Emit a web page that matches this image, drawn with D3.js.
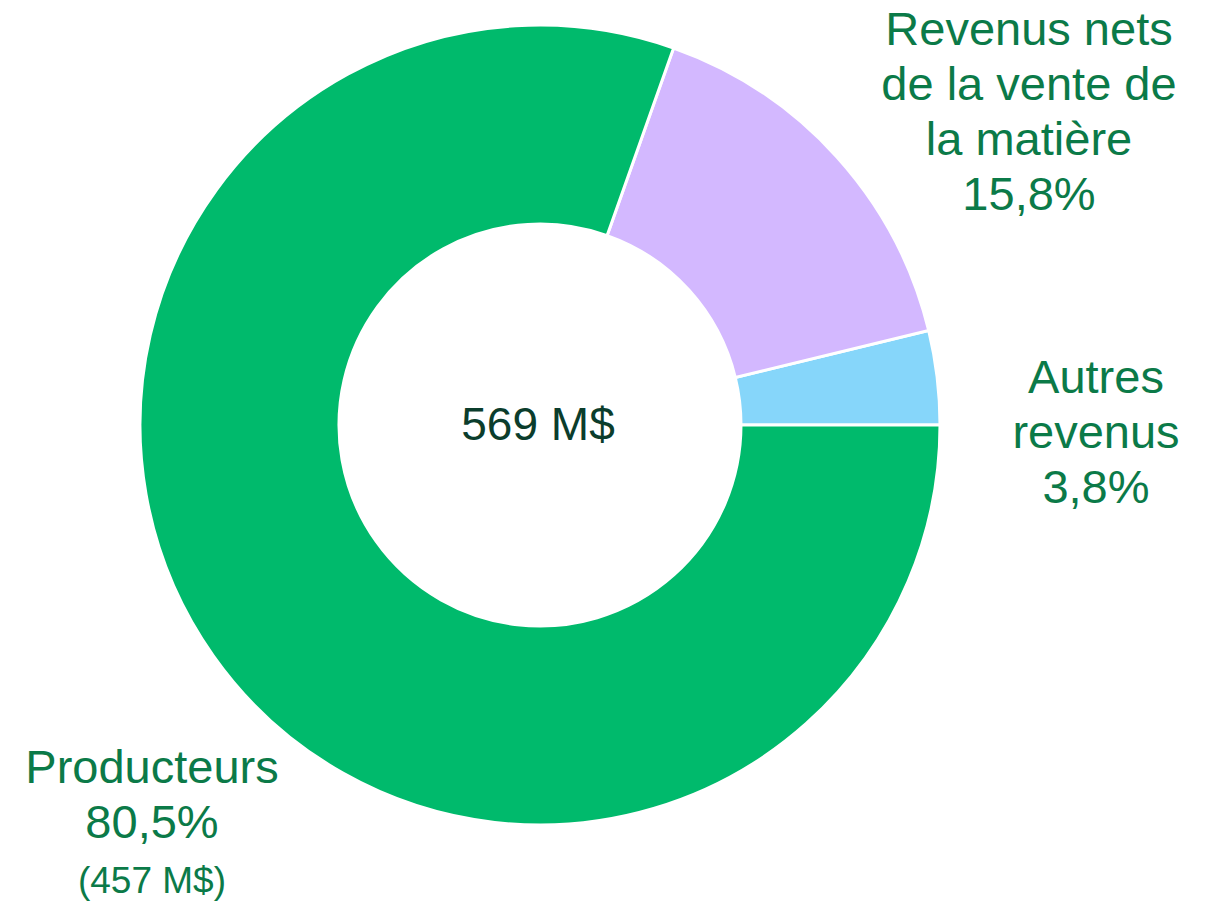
<!DOCTYPE html>
<html>
<head>
<meta charset="utf-8">
<script src="https://cdn.jsdelivr.net/npm/d3@7"></script>
<style>
  body { margin: 0; background: #fff; }
  svg text { font-family: "Liberation Sans", Arial, sans-serif; }
</style>
</head>
<body>
<div id="chart"></div>
<script>
// Chart data
const categories = ['Autres revenus', 'Revenus nets de la vente de la matière', 'Producteurs'];
const shares = [3.8, 15.8, 80.5];
const colors = ['#86D6FA', '#D3B8FF', '#00BA6C'];
const labelLines = [
    ['Autres', 'revenus', '3,8%'],
    ['Revenus nets', 'de la vente de', 'la matière', '15,8%'],
    ['Producteurs', '80,5%']
];
const subLabels = ['', '', '(457 M$)'];
const totalLabel = '569 M$';

const width = 1209;
const height = 904;
const cx = 540, cy = 425;
const outerR = 400, innerR = 201;

const svg = d3.select('#chart')
    .append('svg')
    .attr('width', width)
    .attr('height', height);

const g = svg.append('g')
    .attr('transform', `translate(${cx},${cy})`);

// Slices start at 3 o'clock and run counter-clockwise
const pie = d3.pie()
    .sort(null)
    .startAngle(Math.PI / 2)
    .endAngle(Math.PI / 2 - 2 * Math.PI);

const arc = d3.arc()
    .innerRadius(innerR)
    .outerRadius(outerR);

const arcs = pie(shares);

g.selectAll('path')
    .data(arcs)
    .enter()
    .append('path')
    .attr('d', arc)
    .attr('fill', (d, i) => colors[i])
    .attr('stroke', '#fff')
    .attr('stroke-width', 3);

// Center total
g.append('text')
    .attr('x', -2)
    .attr('y', 15)
    .attr('text-anchor', 'middle')
    .attr('font-size', 46)
    .attr('fill', '#0B3D2C')
    .text(totalLabel);

// Outside labels (anchor x, first baseline)
const labelPos = [
    { x: 1096, y: 393 },
    { x: 1029, y: 45 },
    { x: 152, y: 783 }
];
const lineH = 55;

labelLines.forEach((lines, i) => {
    const t = svg.append('text')
        .attr('text-anchor', 'middle')
        .attr('fill', '#0B7A48')
        .attr('font-size', 47);
    lines.forEach((line, j) => {
        t.append('tspan')
            .attr('x', labelPos[i].x)
            .attr('y', labelPos[i].y + j * lineH)
            .text(line);
    });
    if (subLabels[i]) {
        svg.append('text')
            .attr('x', labelPos[i].x)
            .attr('y', labelPos[i].y + lines.length * lineH)
            .attr('text-anchor', 'middle')
            .attr('fill', '#0B7A48')
            .attr('font-size', 37)
            .text(subLabels[i]);
    }
});
</script>
</body>
</html>
